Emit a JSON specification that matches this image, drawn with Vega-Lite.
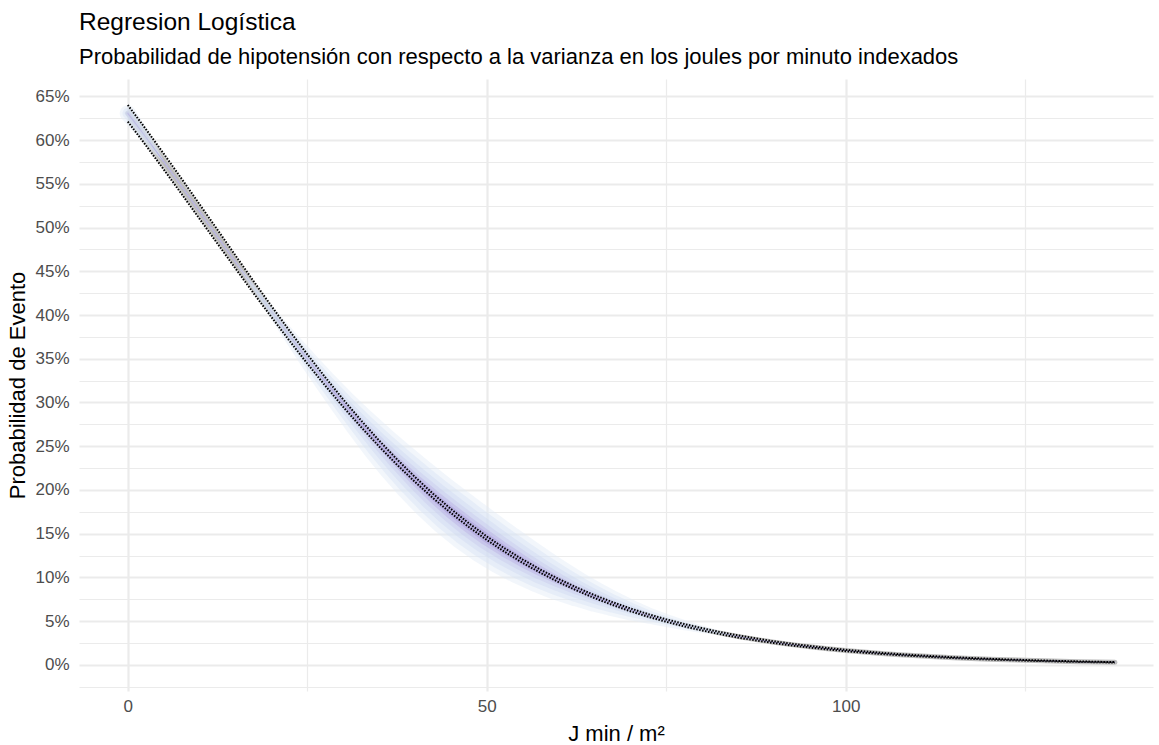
{
  "$schema": "https://vega.github.io/schema/vega-lite/v6.json",
  "width": 1074,
  "height": 612,
  "autosize": "none",
  "padding": {"left": 79, "top": 79, "right": 6, "bottom": 54},
  "background": "white",
  "config": {
    "view": {"stroke": null},
    "font": "Liberation Sans",
    "axis": {"labelFont": "Liberation Sans", "titleFont": "Liberation Sans"}
  },
  "title": {
    "text": "Regresion Logística",
    "subtitle": "Probabilidad de hipotensión con respecto a la varianza en los joules por minuto indexados",
    "anchor": "start",
    "frame": "group",
    "font": "Liberation Sans",
    "subtitleFont": "Liberation Sans",
    "fontSize": 24.5,
    "fontWeight": "normal",
    "color": "black",
    "subtitleFontSize": 22,
    "subtitleColor": "black",
    "subtitlePadding": 12,
    "offset": 10
  },
  "datasets": {
    "curve": [
      {"x": 0, "p": 0.6306, "lo": 0.6211, "hi": 0.6401, "n": 12},
      {"x": 2.5, "p": 0.6034, "lo": 0.5941, "hi": 0.6127, "n": 6},
      {"x": 5, "p": 0.5754, "lo": 0.5664, "hi": 0.5844, "n": 0},
      {"x": 7.5, "p": 0.547, "lo": 0.5383, "hi": 0.5557, "n": 0},
      {"x": 10, "p": 0.5182, "lo": 0.5099, "hi": 0.5265, "n": 0},
      {"x": 12.5, "p": 0.4894, "lo": 0.4815, "hi": 0.4973, "n": 0},
      {"x": 15, "p": 0.4606, "lo": 0.4532, "hi": 0.468, "n": 0},
      {"x": 17.5, "p": 0.432, "lo": 0.4251, "hi": 0.4389, "n": 1},
      {"x": 20, "p": 0.404, "lo": 0.3977, "hi": 0.4103, "n": 4},
      {"x": 22.5, "p": 0.3765, "lo": 0.3707, "hi": 0.3823, "n": 8},
      {"x": 25, "p": 0.3498, "lo": 0.3445, "hi": 0.3551, "n": 14},
      {"x": 27.5, "p": 0.324, "lo": 0.3192, "hi": 0.3288, "n": 21},
      {"x": 30, "p": 0.2992, "lo": 0.2949, "hi": 0.3035, "n": 30},
      {"x": 32.5, "p": 0.2756, "lo": 0.2718, "hi": 0.2794, "n": 41},
      {"x": 35, "p": 0.2531, "lo": 0.2497, "hi": 0.2565, "n": 54},
      {"x": 37.5, "p": 0.2319, "lo": 0.2288, "hi": 0.235, "n": 67},
      {"x": 40, "p": 0.212, "lo": 0.2092, "hi": 0.2148, "n": 79},
      {"x": 42.5, "p": 0.1933, "lo": 0.1908, "hi": 0.1958, "n": 89},
      {"x": 45, "p": 0.176, "lo": 0.1737, "hi": 0.1783, "n": 97},
      {"x": 47.5, "p": 0.1598, "lo": 0.1576, "hi": 0.162, "n": 100},
      {"x": 50, "p": 0.1449, "lo": 0.1429, "hi": 0.1469, "n": 99},
      {"x": 52.5, "p": 0.1312, "lo": 0.1292, "hi": 0.1332, "n": 93},
      {"x": 55, "p": 0.1186, "lo": 0.1167, "hi": 0.1205, "n": 84},
      {"x": 57.5, "p": 0.107, "lo": 0.1052, "hi": 0.1088, "n": 73},
      {"x": 60, "p": 0.0965, "lo": 0.0947, "hi": 0.0983, "n": 61},
      {"x": 62.5, "p": 0.0869, "lo": 0.0852, "hi": 0.0886, "n": 48},
      {"x": 65, "p": 0.0781, "lo": 0.0764, "hi": 0.0798, "n": 37},
      {"x": 67.5, "p": 0.0702, "lo": 0.0686, "hi": 0.0718, "n": 27},
      {"x": 70, "p": 0.063, "lo": 0.0614, "hi": 0.0646, "n": 19},
      {"x": 72.5, "p": 0.0565, "lo": 0.055, "hi": 0.058, "n": 12},
      {"x": 75, "p": 0.0507, "lo": 0.0493, "hi": 0.0521, "n": 8},
      {"x": 77.5, "p": 0.0454, "lo": 0.044, "hi": 0.0468, "n": 5},
      {"x": 80, "p": 0.0407, "lo": 0.0394, "hi": 0.042, "n": 3},
      {"x": 82.5, "p": 0.0364, "lo": 0.0352, "hi": 0.0376, "n": 1},
      {"x": 85, "p": 0.0325, "lo": 0.0313, "hi": 0.0337, "n": 0},
      {"x": 87.5, "p": 0.0291, "lo": 0.028, "hi": 0.0302, "n": 0},
      {"x": 90, "p": 0.026, "lo": 0.025, "hi": 0.027, "n": 0},
      {"x": 92.5, "p": 0.0232, "lo": 0.0222, "hi": 0.0242, "n": 0},
      {"x": 95, "p": 0.0208, "lo": 0.0199, "hi": 0.0217, "n": 0},
      {"x": 97.5, "p": 0.0185, "lo": 0.0177, "hi": 0.0193, "n": 0},
      {"x": 100, "p": 0.01654, "lo": 0.01575, "hi": 0.01733, "n": 0},
      {"x": 102.5, "p": 0.01477, "lo": 0.01403, "hi": 0.01551, "n": 0},
      {"x": 105, "p": 0.01318, "lo": 0.0125, "hi": 0.01386, "n": 0},
      {"x": 107.5, "p": 0.01176, "lo": 0.01113, "hi": 0.01239, "n": 0},
      {"x": 110, "p": 0.01049, "lo": 0.0099, "hi": 0.01108, "n": 0},
      {"x": 112.5, "p": 0.00935, "lo": 0.00881, "hi": 0.00989, "n": 0},
      {"x": 115, "p": 0.00834, "lo": 0.00784, "hi": 0.00884, "n": 0},
      {"x": 117.5, "p": 0.00744, "lo": 0.00698, "hi": 0.0079, "n": 0},
      {"x": 120, "p": 0.00663, "lo": 0.0062, "hi": 0.00706, "n": 0},
      {"x": 122.5, "p": 0.00591, "lo": 0.00552, "hi": 0.0063, "n": 0},
      {"x": 125, "p": 0.00527, "lo": 0.00491, "hi": 0.00563, "n": 0},
      {"x": 127.5, "p": 0.0047, "lo": 0.00437, "hi": 0.00503, "n": 0},
      {"x": 130, "p": 0.00419, "lo": 0.00389, "hi": 0.00449, "n": 0},
      {"x": 132.5, "p": 0.00373, "lo": 0.00345, "hi": 0.00401, "n": 0},
      {"x": 135, "p": 0.00333, "lo": 0.00308, "hi": 0.00358, "n": 0},
      {"x": 137.5, "p": 0.00297, "lo": 0.00274, "hi": 0.0032, "n": 0}
    ]
  },
  "data": {"name": "curve"},
  "encoding": {
    "x": {
      "field": "x",
      "type": "quantitative",
      "scale": {"domain": [-6.8, 142.8], "nice": false, "zero": false},
      "axis": {
        "values": [0, 25, 50, 75, 100, 125],
        "labelExpr": "datum.value % 50 == 0 ? datum.label : ''",
        "labelFontSize": 17,
        "labelColor": "#4D4D4D",
        "labelPadding": 7,
        "labelOverlap": false,
        "labelFlush": false,
        "ticks": false,
        "domain": false,
        "grid": true,
        "gridColor": "#EBEBEB",
        "gridWidth": {"condition": {"test": "datum.value % 50 == 0", "value": 2.2}, "value": 1.2},
        "title": "J min / m²",
        "titleFontSize": 22,
        "titleFontWeight": "normal",
        "titleColor": "black",
        "titleX": 537,
        "titleY": 42,
        "titleAlign": "center",
        "titleBaseline": "middle"
      }
    },
    "y": {
      "field": "p",
      "type": "quantitative",
      "scale": {"domain": [-0.0298, 0.6698], "nice": false, "zero": false},
      "axis": {
        "values": [-0.025, 0, 0.025, 0.05, 0.075, 0.1, 0.125, 0.15, 0.175, 0.2, 0.225, 0.25, 0.275, 0.3, 0.325, 0.35, 0.375, 0.4, 0.425, 0.45, 0.475, 0.5, 0.525, 0.55, 0.575, 0.6, 0.625, 0.65],
        "format": ".0%",
        "labelExpr": "abs(round(datum.value * 1000)) % 50 == 0 ? datum.label : ''",
        "labelFontSize": 17,
        "labelColor": "#4D4D4D",
        "labelPadding": 10,
        "labelOverlap": false,
        "labelFlush": false,
        "ticks": false,
        "domain": false,
        "grid": true,
        "gridColor": "#EBEBEB",
        "gridWidth": {"condition": {"test": "abs(round(datum.value * 1000)) % 50 == 0", "value": 2.2}, "value": 1.2},
        "title": "Probabilidad de Evento",
        "titleFontSize": 22,
        "titleFontWeight": "normal",
        "titleColor": "black",
        "titleAngle": -90,
        "titleX": -62,
        "titleY": 306,
        "titleAlign": "center",
        "titleBaseline": "middle"
      }
    }
  },
  "resolve": {"scale": {"size": "independent"}},
  "layer": [
    {
      "mark": {"type": "area", "color": "#c8c8c8", "opacity": 0.85},
      "encoding": {
        "y": {"field": "lo", "type": "quantitative"},
        "y2": {"field": "hi"}
      }
    },
    {
      "mark": {"type": "line", "color": "#bdbdbd", "strokeWidth": 5, "strokeCap": "round"}
    },
    {
      "mark": {"type": "trail", "color": "#e3ebf7", "opacity": 0.45},
      "encoding": {
        "size": {"field": "n", "type": "quantitative", "scale": {"type": "pow", "exponent": 0.55, "domain": [0, 100], "range": [0, 52]}, "legend": null}
      }
    },
    {
      "mark": {"type": "trail", "color": "#d8e2f4", "opacity": 0.45},
      "encoding": {
        "size": {"field": "n", "type": "quantitative", "scale": {"type": "pow", "exponent": 0.65, "domain": [0, 100], "range": [0, 42]}, "legend": null}
      }
    },
    {
      "mark": {"type": "trail", "color": "#ccd6f1", "opacity": 0.4},
      "encoding": {
        "size": {"field": "n", "type": "quantitative", "scale": {"type": "pow", "exponent": 0.8, "domain": [0, 100], "range": [0, 32]}, "legend": null}
      }
    },
    {
      "mark": {"type": "trail", "color": "#c3c3eb", "opacity": 0.35},
      "encoding": {
        "size": {"field": "n", "type": "quantitative", "scale": {"type": "pow", "exponent": 1, "domain": [0, 100], "range": [0, 23]}, "legend": null}
      }
    },
    {
      "mark": {"type": "trail", "color": "#b2a3df", "opacity": 0.35},
      "encoding": {
        "size": {"field": "n", "type": "quantitative", "scale": {"type": "pow", "exponent": 1.3, "domain": [0, 100], "range": [0, 15]}, "legend": null}
      }
    },
    {
      "mark": {"type": "trail", "color": "#a28ed6", "opacity": 0.35},
      "encoding": {
        "size": {"field": "n", "type": "quantitative", "scale": {"type": "pow", "exponent": 1.6, "domain": [0, 100], "range": [0, 9]}, "legend": null}
      }
    },
    {
      "mark": {"type": "line", "color": "black", "strokeWidth": 2, "strokeDash": [1.5, 1.5]},
      "encoding": {"y": {"field": "hi", "type": "quantitative"}}
    },
    {
      "mark": {"type": "line", "color": "black", "strokeWidth": 2, "strokeDash": [1.5, 1.5]},
      "encoding": {"y": {"field": "lo", "type": "quantitative"}}
    }
  ]
}
